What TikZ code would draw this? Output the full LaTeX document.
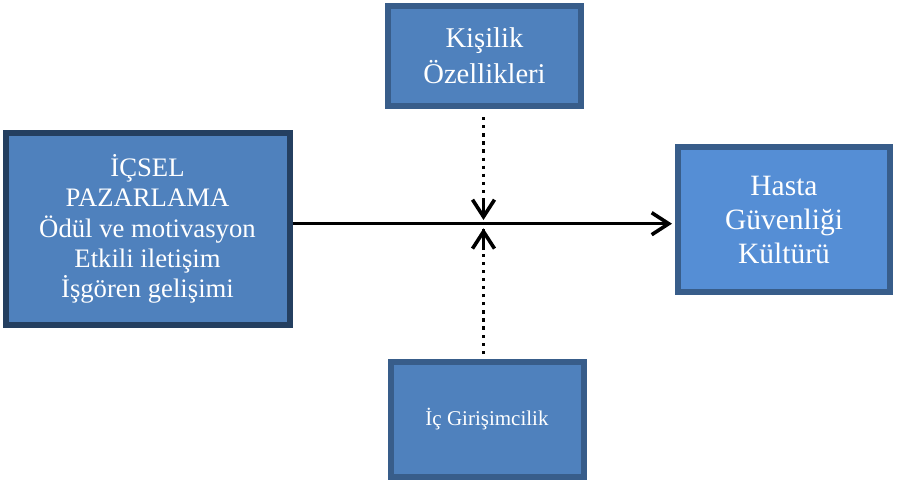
\documentclass[tikz,border=0pt]{standalone}
\usepackage{fontspec}
\setmainfont{Liberation Serif}
\usetikzlibrary{arrows.meta}
\definecolor{boxfill}{HTML}{4F81BD}
\definecolor{boxfilllight}{HTML}{558ED5}
\definecolor{boxedge}{HTML}{385D8A}
\definecolor{boxedgedark}{HTML}{243F60}
\tikzset{
  block/.style={draw=boxedge, fill=boxfill, line width=6pt, text=white,
    align=center, inner sep=0pt, rectangle},
  barb/.tip={Straight Barb[length=17pt, width=22pt, line width=3.6pt]},
  flow/.style={line width=3pt, -barb},
  dotline/.style={line width=3.3pt, dash pattern=on 3.3pt off 4.8pt},
  tiponly/.style={line width=3pt, -barb},
}
\begin{document}
\begin{tikzpicture}[x=1pt, y=-1pt]
\useasboundingbox (0,0) rectangle (900,483);
\fill[white] (0,0) rectangle (900,483);

% boxes (outer size minus line width)
\node[block, minimum width=193pt, minimum height=100pt,
  font=\fontsize{28.6}{36}\selectfont] (kisilik) at (484.5,56)
  {Kişilik\\Özellikleri};
\node[block, draw=boxedgedark, minimum width=284pt, minimum height=192pt,
  font=\fontsize{26.7}{30.4}\selectfont] (icsel) at (147.5,229)
  {İÇSEL\\PAZARLAMA\\Ödül ve motivasyon\\Etkili iletişim\\İşgören gelişimi};
\node[block, fill=boxfilllight, minimum width=212pt, minimum height=145pt,
  font=\fontsize{29.5}{34}\selectfont] (hasta) at (784,219.5)
  {Hasta\\Güvenliği\\Kültürü};
\node[block, minimum width=193pt, minimum height=115pt,
  font=\fontsize{21}{25}\selectfont] (girisim) at (487,419.5)
  {İç Girişimcilik};

% connectors
\coordinate (meet) at (483.5,223.7);
\coordinate (toptip) at (483.5,220);
\coordinate (toptipback) at (483.5,198);
\coordinate (bottip) at (483.5,228.3);
\coordinate (bottipback) at (483.5,250);
\draw[flow] (icsel.east |- meet) -- ([xshift=-3pt]hasta.west |- meet);
\draw[dotline] ([yshift=-8pt]kisilik.south -| meet) -- (toptip);
\draw[tiponly] (toptipback) -- (toptip);
\draw[dotline] ([yshift=5pt]girisim.north -| meet) -- (bottip);
\draw[tiponly] (bottipback) -- (bottip);
\end{tikzpicture}
\end{document}
